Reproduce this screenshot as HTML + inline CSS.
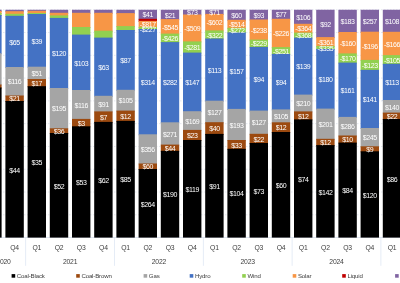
<!DOCTYPE html>
<html><head><meta charset="utf-8"><style>
html,body{margin:0;padding:0;}
body{width:400px;height:283px;overflow:hidden;background:#fff;position:relative;}
svg{position:absolute;left:0;top:0;will-change:transform;}
text{font-family:"Liberation Sans",sans-serif;}
</style></head><body>

<svg width="400" height="283" viewBox="0 0 400 283"><line x1="0" x2="400" y1="9.75" y2="9.75" stroke="#d9dee8" stroke-width="0.7" stroke-dasharray="1.5 1.5"/><line x1="0" x2="400" y1="32.53" y2="32.53" stroke="#d9dee8" stroke-width="0.7" stroke-dasharray="1.5 1.5"/><line x1="0" x2="400" y1="55.32" y2="55.32" stroke="#d9dee8" stroke-width="0.7" stroke-dasharray="1.5 1.5"/><line x1="0" x2="400" y1="78.10" y2="78.10" stroke="#d9dee8" stroke-width="0.7" stroke-dasharray="1.5 1.5"/><line x1="0" x2="400" y1="100.89" y2="100.89" stroke="#d9dee8" stroke-width="0.7" stroke-dasharray="1.5 1.5"/><line x1="0" x2="400" y1="123.67" y2="123.67" stroke="#d9dee8" stroke-width="0.7" stroke-dasharray="1.5 1.5"/><line x1="0" x2="400" y1="146.46" y2="146.46" stroke="#d9dee8" stroke-width="0.7" stroke-dasharray="1.5 1.5"/><line x1="0" x2="400" y1="169.25" y2="169.25" stroke="#d9dee8" stroke-width="0.7" stroke-dasharray="1.5 1.5"/><line x1="0" x2="400" y1="192.03" y2="192.03" stroke="#d9dee8" stroke-width="0.7" stroke-dasharray="1.5 1.5"/><line x1="0" x2="400" y1="214.81" y2="214.81" stroke="#d9dee8" stroke-width="0.7" stroke-dasharray="1.5 1.5"/><rect x="0" y="237.20" width="400" height="0.8" fill="#d6dfee"/><rect x="-16.80" y="9.75" width="18.4" height="2.25" fill="#8064A2"/><rect x="-16.80" y="11.00" width="18.4" height="3.00" fill="#F79646"/><rect x="-16.80" y="13.00" width="18.4" height="3.00" fill="#92D050"/><rect x="-16.80" y="15.00" width="18.4" height="39.20" fill="#4472C4"/><rect x="-16.80" y="53.20" width="18.4" height="32.30" fill="#A5A5A5"/><rect x="-16.80" y="84.50" width="18.4" height="4.00" fill="#9C4A10"/><rect x="-16.80" y="87.50" width="18.4" height="150.10" fill="#000000"/><rect x="5.40" y="9.75" width="18.4" height="2.45" fill="#8064A2"/><rect x="5.40" y="11.20" width="18.4" height="3.60" fill="#F79646"/><rect x="5.40" y="13.80" width="18.4" height="3.00" fill="#92D050"/><rect x="5.40" y="15.80" width="18.4" height="52.20" fill="#4472C4"/><rect x="5.40" y="67.00" width="18.4" height="29.50" fill="#A5A5A5"/><rect x="5.40" y="95.50" width="18.4" height="6.50" fill="#9C4A10"/><rect x="5.40" y="101.00" width="18.4" height="136.60" fill="#000000"/><rect x="27.60" y="9.75" width="18.4" height="2.05" fill="#8064A2"/><rect x="27.60" y="10.80" width="18.4" height="3.20" fill="#F79646"/><rect x="27.60" y="13.00" width="18.4" height="2.00" fill="#92D050"/><rect x="27.60" y="14.00" width="18.4" height="53.70" fill="#4472C4"/><rect x="27.60" y="66.70" width="18.4" height="13.30" fill="#A5A5A5"/><rect x="27.60" y="79.00" width="18.4" height="8.20" fill="#9C4A10"/><rect x="27.60" y="86.20" width="18.4" height="151.40" fill="#000000"/><rect x="49.80" y="9.75" width="18.4" height="4.05" fill="#8064A2"/><rect x="49.80" y="12.80" width="18.4" height="3.60" fill="#F79646"/><rect x="49.80" y="15.40" width="18.4" height="3.50" fill="#92D050"/><rect x="49.80" y="17.90" width="18.4" height="71.10" fill="#4472C4"/><rect x="49.80" y="88.00" width="18.4" height="41.30" fill="#A5A5A5"/><rect x="49.80" y="128.30" width="18.4" height="5.70" fill="#9C4A10"/><rect x="49.80" y="133.00" width="18.4" height="104.60" fill="#000000"/><rect x="72.00" y="9.75" width="18.4" height="4.05" fill="#8064A2"/><rect x="72.00" y="12.80" width="18.4" height="15.20" fill="#F79646"/><rect x="72.00" y="27.00" width="18.4" height="8.60" fill="#92D050"/><rect x="72.00" y="34.60" width="18.4" height="56.40" fill="#4472C4"/><rect x="72.00" y="90.00" width="18.4" height="29.90" fill="#A5A5A5"/><rect x="72.00" y="118.90" width="18.4" height="8.40" fill="#9C4A10"/><rect x="72.00" y="126.30" width="18.4" height="111.30" fill="#000000"/><rect x="94.20" y="9.75" width="18.4" height="4.05" fill="#8064A2"/><rect x="94.20" y="12.80" width="18.4" height="18.90" fill="#F79646"/><rect x="94.20" y="30.70" width="18.4" height="7.90" fill="#92D050"/><rect x="94.20" y="37.60" width="18.4" height="59.20" fill="#4472C4"/><rect x="94.20" y="95.80" width="18.4" height="16.60" fill="#A5A5A5"/><rect x="94.20" y="111.40" width="18.4" height="11.50" fill="#9C4A10"/><rect x="94.20" y="121.90" width="18.4" height="115.70" fill="#000000"/><rect x="116.40" y="9.75" width="18.4" height="4.35" fill="#8064A2"/><rect x="116.40" y="13.10" width="18.4" height="14.00" fill="#F79646"/><rect x="116.40" y="26.10" width="18.4" height="4.90" fill="#92D050"/><rect x="116.40" y="30.00" width="18.4" height="60.80" fill="#4472C4"/><rect x="116.40" y="89.80" width="18.4" height="21.80" fill="#A5A5A5"/><rect x="116.40" y="110.60" width="18.4" height="11.30" fill="#9C4A10"/><rect x="116.40" y="120.90" width="18.4" height="116.70" fill="#000000"/><rect x="138.60" y="9.75" width="18.4" height="10.05" fill="#8064A2"/><rect x="138.60" y="18.80" width="18.4" height="3.10" fill="#C00000"/><rect x="138.60" y="20.90" width="18.4" height="7.00" fill="#F79646"/><rect x="138.60" y="26.90" width="18.4" height="3.10" fill="#92D050"/><rect x="138.60" y="29.00" width="18.4" height="106.30" fill="#4472C4"/><rect x="138.60" y="134.30" width="18.4" height="30.20" fill="#A5A5A5"/><rect x="138.60" y="163.50" width="18.4" height="6.50" fill="#9C4A10"/><rect x="138.60" y="169.00" width="18.4" height="68.60" fill="#000000"/><rect x="160.80" y="9.75" width="18.4" height="10.35" fill="#8064A2"/><rect x="160.80" y="19.10" width="18.4" height="15.50" fill="#F79646"/><rect x="160.80" y="33.60" width="18.4" height="9.50" fill="#92D050"/><rect x="160.80" y="42.10" width="18.4" height="81.20" fill="#4472C4"/><rect x="160.80" y="122.30" width="18.4" height="23.30" fill="#A5A5A5"/><rect x="160.80" y="144.60" width="18.4" height="7.20" fill="#9C4A10"/><rect x="160.80" y="150.80" width="18.4" height="86.80" fill="#000000"/><rect x="183.00" y="9.75" width="18.4" height="5.75" fill="#8064A2"/><rect x="183.00" y="14.50" width="18.4" height="27.90" fill="#F79646"/><rect x="183.00" y="41.40" width="18.4" height="12.20" fill="#92D050"/><rect x="183.00" y="52.60" width="18.4" height="59.60" fill="#4472C4"/><rect x="183.00" y="111.20" width="18.4" height="19.70" fill="#A5A5A5"/><rect x="183.00" y="129.90" width="18.4" height="11.10" fill="#9C4A10"/><rect x="183.00" y="140.00" width="18.4" height="97.60" fill="#000000"/><rect x="205.20" y="9.75" width="18.4" height="5.15" fill="#8064A2"/><rect x="205.20" y="13.90" width="18.4" height="17.50" fill="#F79646"/><rect x="205.20" y="30.40" width="18.4" height="9.10" fill="#92D050"/><rect x="205.20" y="38.50" width="18.4" height="63.20" fill="#4472C4"/><rect x="205.20" y="100.70" width="18.4" height="22.50" fill="#A5A5A5"/><rect x="205.20" y="122.20" width="18.4" height="12.70" fill="#9C4A10"/><rect x="205.20" y="133.90" width="18.4" height="103.70" fill="#000000"/><rect x="227.40" y="9.75" width="18.4" height="11.05" fill="#8064A2"/><rect x="227.40" y="19.80" width="18.4" height="9.00" fill="#F79646"/><rect x="227.40" y="27.80" width="18.4" height="5.60" fill="#92D050"/><rect x="227.40" y="32.40" width="18.4" height="77.50" fill="#4472C4"/><rect x="227.40" y="108.90" width="18.4" height="32.10" fill="#A5A5A5"/><rect x="227.40" y="140.00" width="18.4" height="9.80" fill="#9C4A10"/><rect x="227.40" y="148.80" width="18.4" height="88.80" fill="#000000"/><rect x="249.60" y="9.75" width="18.4" height="10.75" fill="#8064A2"/><rect x="249.60" y="19.50" width="18.4" height="21.10" fill="#F79646"/><rect x="249.60" y="39.60" width="18.4" height="8.30" fill="#92D050"/><rect x="249.60" y="46.90" width="18.4" height="64.70" fill="#4472C4"/><rect x="249.60" y="110.60" width="18.4" height="24.20" fill="#A5A5A5"/><rect x="249.60" y="133.80" width="18.4" height="10.20" fill="#9C4A10"/><rect x="249.60" y="143.00" width="18.4" height="94.60" fill="#000000"/><rect x="271.80" y="9.75" width="18.4" height="10.05" fill="#8064A2"/><rect x="271.80" y="18.80" width="18.4" height="29.30" fill="#F79646"/><rect x="271.80" y="47.10" width="18.4" height="7.80" fill="#92D050"/><rect x="271.80" y="53.90" width="18.4" height="56.50" fill="#4472C4"/><rect x="271.80" y="109.40" width="18.4" height="13.90" fill="#A5A5A5"/><rect x="271.80" y="122.30" width="18.4" height="10.70" fill="#9C4A10"/><rect x="271.80" y="132.00" width="18.4" height="105.60" fill="#000000"/><rect x="294.00" y="9.75" width="18.4" height="15.05" fill="#8064A2"/><rect x="294.00" y="23.80" width="18.4" height="9.80" fill="#F79646"/><rect x="294.00" y="32.60" width="18.4" height="6.00" fill="#92D050"/><rect x="294.00" y="37.60" width="18.4" height="58.00" fill="#4472C4"/><rect x="294.00" y="94.60" width="18.4" height="17.80" fill="#A5A5A5"/><rect x="294.00" y="111.40" width="18.4" height="9.00" fill="#9C4A10"/><rect x="294.00" y="119.40" width="18.4" height="118.20" fill="#000000"/><rect x="316.20" y="9.75" width="18.4" height="28.35" fill="#8064A2"/><rect x="316.20" y="37.10" width="18.4" height="9.80" fill="#F79646"/><rect x="316.20" y="45.90" width="18.4" height="4.00" fill="#92D050"/><rect x="316.20" y="48.90" width="18.4" height="60.70" fill="#4472C4"/><rect x="316.20" y="108.60" width="18.4" height="31.20" fill="#A5A5A5"/><rect x="316.20" y="138.80" width="18.4" height="7.30" fill="#9C4A10"/><rect x="316.20" y="145.10" width="18.4" height="92.50" fill="#000000"/><rect x="338.40" y="9.75" width="18.4" height="23.25" fill="#8064A2"/><rect x="338.40" y="32.00" width="18.4" height="22.40" fill="#F79646"/><rect x="338.40" y="53.40" width="18.4" height="10.20" fill="#92D050"/><rect x="338.40" y="62.60" width="18.4" height="55.30" fill="#4472C4"/><rect x="338.40" y="116.90" width="18.4" height="19.60" fill="#A5A5A5"/><rect x="338.40" y="135.50" width="18.4" height="8.10" fill="#9C4A10"/><rect x="338.40" y="142.60" width="18.4" height="95.00" fill="#000000"/><rect x="360.60" y="9.75" width="18.4" height="22.95" fill="#8064A2"/><rect x="360.60" y="31.70" width="18.4" height="29.20" fill="#F79646"/><rect x="360.60" y="59.90" width="18.4" height="10.95" fill="#92D050"/><rect x="360.60" y="69.85" width="18.4" height="59.15" fill="#4472C4"/><rect x="360.60" y="128.00" width="18.4" height="19.30" fill="#A5A5A5"/><rect x="360.60" y="146.30" width="18.4" height="6.00" fill="#9C4A10"/><rect x="360.60" y="151.30" width="18.4" height="86.30" fill="#000000"/><rect x="382.80" y="9.75" width="18.4" height="23.05" fill="#8064A2"/><rect x="382.80" y="31.80" width="18.4" height="24.30" fill="#F79646"/><rect x="382.80" y="55.10" width="18.4" height="9.70" fill="#92D050"/><rect x="382.80" y="63.80" width="18.4" height="37.20" fill="#4472C4"/><rect x="382.80" y="100.00" width="18.4" height="13.60" fill="#A5A5A5"/><rect x="382.80" y="112.60" width="18.4" height="7.40" fill="#9C4A10"/><rect x="382.80" y="119.00" width="18.4" height="118.60" fill="#000000"/><g fill="#fff" font-size="7" letter-spacing="-0.4" text-anchor="middle"><text x="14.60" y="44.60">$65</text><text x="14.60" y="84.45">$116</text><text x="14.60" y="101.45">$21</text><text x="14.60" y="172.50">$44</text><text x="36.80" y="43.55">$39</text><text x="36.80" y="76.05">$51</text><text x="36.80" y="85.80">$17</text><text x="36.80" y="165.10">$35</text><text x="59.00" y="56.15">$120</text><text x="59.00" y="111.35">$195</text><text x="59.00" y="133.85">$36</text><text x="59.00" y="188.50">$52</text><text x="81.20" y="65.50">$103</text><text x="81.20" y="107.65">$116</text><text x="81.20" y="125.80">$3</text><text x="81.20" y="185.15">$53</text><text x="103.40" y="69.90">$63</text><text x="103.40" y="106.80">$91</text><text x="103.40" y="119.85">$7</text><text x="103.40" y="182.95">$62</text><text x="125.60" y="63.10">$87</text><text x="125.60" y="103.40">$105</text><text x="125.60" y="118.95">$12</text><text x="125.60" y="182.45">$85</text><text x="147.80" y="17.48">$41</text><text x="147.80" y="27.10">-$817</text><text x="147.80" y="32.45">-$227</text><text x="147.80" y="84.85">$314</text><text x="147.80" y="152.10">$356</text><text x="147.80" y="169.45">$60</text><text x="147.80" y="206.50">$264</text><text x="170.00" y="17.62">$21</text><text x="170.00" y="29.55">-$545</text><text x="170.00" y="41.05">-$426</text><text x="170.00" y="85.40">$282</text><text x="170.00" y="136.65">$271</text><text x="170.00" y="150.90">$44</text><text x="170.00" y="197.40">$190</text><text x="192.20" y="15.32">$73</text><text x="192.20" y="31.15">-$509</text><text x="192.20" y="50.20">-$281</text><text x="192.20" y="85.10">$147</text><text x="192.20" y="123.75">$169</text><text x="192.20" y="138.15">$23</text><text x="192.20" y="192.00">$119</text><text x="214.40" y="15.02">$71</text><text x="214.40" y="25.35">-$602</text><text x="214.40" y="37.65">-$322</text><text x="214.40" y="72.80">$113</text><text x="214.40" y="114.65">$127</text><text x="214.40" y="131.25">$40</text><text x="214.40" y="188.95">$91</text><text x="236.60" y="17.98">$60</text><text x="236.60" y="27.00">-$514</text><text x="236.60" y="33.30">-$272</text><text x="236.60" y="73.85">$157</text><text x="236.60" y="127.65">$193</text><text x="236.60" y="147.60">$33</text><text x="236.60" y="196.40">$104</text><text x="258.80" y="17.82">$93</text><text x="258.80" y="32.75">-$238</text><text x="258.80" y="46.45">-$229</text><text x="258.80" y="81.95">$94</text><text x="258.80" y="125.40">$127</text><text x="258.80" y="141.60">$22</text><text x="258.80" y="193.50">$73</text><text x="281.00" y="17.48">$77</text><text x="281.00" y="36.15">-$226</text><text x="281.00" y="53.70">-$251</text><text x="281.00" y="84.85">$94</text><text x="281.00" y="119.05">$105</text><text x="281.00" y="130.35">$12</text><text x="281.00" y="188.00">$60</text><text x="303.20" y="19.97">$106</text><text x="303.20" y="31.40">-$364</text><text x="303.20" y="38.30">-$368</text><text x="303.20" y="69.30">$139</text><text x="303.20" y="106.20">$210</text><text x="303.20" y="118.60">$12</text><text x="303.20" y="181.70">$74</text><text x="325.40" y="26.62">$92</text><text x="325.40" y="44.70">-$361</text><text x="325.40" y="50.60">-$335</text><text x="325.40" y="81.95">$180</text><text x="325.40" y="126.90">$201</text><text x="325.40" y="145.15">$12</text><text x="325.40" y="194.55">$142</text><text x="347.60" y="24.07">$183</text><text x="347.60" y="45.90">-$160</text><text x="347.60" y="61.20">-$170</text><text x="347.60" y="92.95">$161</text><text x="347.60" y="129.40">$286</text><text x="347.60" y="142.25">$10</text><text x="347.60" y="193.30">$84</text><text x="369.80" y="23.93">$257</text><text x="369.80" y="49.00">-$196</text><text x="369.80" y="68.08">-$123</text><text x="369.80" y="102.12">$141</text><text x="369.80" y="140.35">$245</text><text x="369.80" y="152.00">$9</text><text x="369.80" y="197.65">$120</text><text x="392.00" y="23.97">$108</text><text x="392.00" y="46.65">-$166</text><text x="392.00" y="62.65">-$105</text><text x="392.00" y="85.10">$113</text><text x="392.00" y="109.50">$140</text><text x="392.00" y="119.00">$22</text><text x="392.00" y="181.50">$86</text></g><rect x="25.30" y="237.60" width="0.8" height="28.20" fill="#dfe7f4"/><rect x="114.10" y="237.60" width="0.8" height="28.20" fill="#dfe7f4"/><rect x="202.90" y="237.60" width="0.8" height="28.20" fill="#dfe7f4"/><rect x="291.70" y="237.60" width="0.8" height="28.20" fill="#dfe7f4"/><rect x="380.50" y="237.60" width="0.8" height="28.20" fill="#dfe7f4"/><g fill="#404040" font-size="6.8" letter-spacing="-0.2" text-anchor="middle"><text x="-7.60" y="249.8">Q3</text><text x="14.60" y="249.8">Q4</text><text x="36.80" y="249.8">Q1</text><text x="59.00" y="249.8">Q2</text><text x="81.20" y="249.8">Q3</text><text x="103.40" y="249.8">Q4</text><text x="125.60" y="249.8">Q1</text><text x="147.80" y="249.8">Q2</text><text x="170.00" y="249.8">Q3</text><text x="192.20" y="249.8">Q4</text><text x="214.40" y="249.8">Q1</text><text x="236.60" y="249.8">Q2</text><text x="258.80" y="249.8">Q3</text><text x="281.00" y="249.8">Q4</text><text x="303.20" y="249.8">Q1</text><text x="325.40" y="249.8">Q2</text><text x="347.60" y="249.8">Q3</text><text x="369.80" y="249.8">Q4</text><text x="392.00" y="249.8">Q1</text><text x="3.50" y="263.5">2020</text><text x="70.10" y="263.5">2021</text><text x="158.90" y="263.5">2022</text><text x="247.70" y="263.5">2023</text><text x="336.50" y="263.5">2024</text></g><rect x="11.60" y="274.1" width="3.6" height="3.6" fill="#000000"/><rect x="76.20" y="274.1" width="3.6" height="3.6" fill="#9C4A10"/><rect x="143.60" y="274.1" width="3.6" height="3.6" fill="#A5A5A5"/><rect x="189.70" y="274.1" width="3.6" height="3.6" fill="#4472C4"/><rect x="242.20" y="274.1" width="3.6" height="3.6" fill="#92D050"/><rect x="292.70" y="274.1" width="3.6" height="3.6" fill="#F79646"/><rect x="342.20" y="274.1" width="3.6" height="3.6" fill="#C00000"/><rect x="395.10" y="274.1" width="3.6" height="3.6" fill="#8064A2"/><g fill="#404040" font-size="6.1" letter-spacing="-0.15"><text x="16.80" y="277.8">Coal-Black</text><text x="81.40" y="277.8">Coal-Brown</text><text x="148.80" y="277.8">Gas</text><text x="194.90" y="277.8">Hydro</text><text x="247.40" y="277.8">Wind</text><text x="297.90" y="277.8">Solar</text><text x="347.40" y="277.8">Liquid</text><text x="400.30" y="277.8">Other</text></g></svg>
</body></html>
